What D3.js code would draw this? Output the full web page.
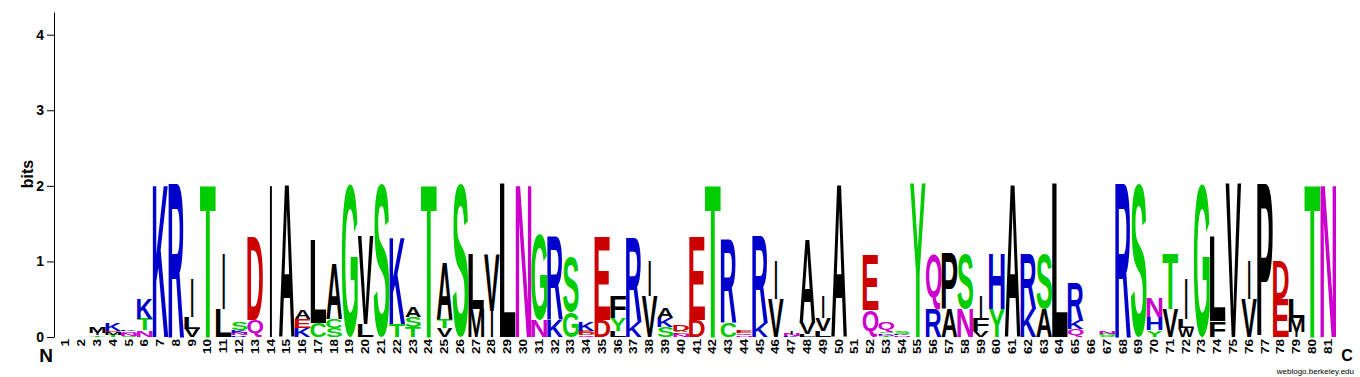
<html>
<script src="https://d3js.org/d3.v7.min.js"></script>
<style>
    body { margin: 0; background: #fff; }
    text { font-family: "Liberation Sans", Arial, Helvetica, sans-serif; }
</style>
<body>
<svg id="logo"></svg>
<script>
// sequence positions (x categories)
var positions = [1, 2, 3, 4, 5, 6, 7, 8, 9, 10, 11, 12, 13, 14, 15, 16, 17, 18, 19, 20,
    21, 22, 23, 24, 25, 26, 27, 28, 29, 30, 31, 32, 33, 34, 35, 36, 37, 38, 39, 40,
    41, 42, 43, 44, 45, 46, 47, 48, 49, 50, 51, 52, 53, 54, 55, 56, 57, 58, 59, 60,
    61, 62, 63, 64, 65, 66, 67, 68, 69, 70, 71, 72, 73, 74, 75, 76, 77, 78, 79, 80, 81];

// letters in each column, bottom to top
var columnLetters = ["", "", "TIM", "TMEK", "SNQK", "NTK", "K", "R", "VLI", "T",
    "LI", "RNKS", "QD", "I", "A", "KEA", "CL", "SCA", "G", "LV",
    "S", "TK", "TSA", "T", "VTA", "S", "ML", "IV", "L", "N",
    "NG", "KR", "GS", "QDEK", "DE", "LYF", "KR", "VI", "SKA", "NEAD",
    "DE", "T", "CR", "NQE", "KR", "VI", "KNI", "LVA", "LVI", "A",
    "", "QE", "TNKSQ", "NKS", "Y", "RQ", "AP", "NS", "VFI", "YH",
    "A", "KR", "AS", "L", "QKR", "", "SGN", "R", "S", "YHN",
    "VT", "WLI", "G", "FL", "V", "VI", "P", "ED", "IML", "T", "N"];

// bits for each letter, same order as columnLetters
var columnBits = [[], [], [0.02, 0.03, 0.09], [0.03, 0.03, 0.02, 0.10], [0.015, 0.04, 0.02, 0.02],
    [0.09, 0.15, 0.27], [2.03], [2.03], [0.11, 0.15, 0.51], [2.03],
    [0.37, 0.73], [0.02, 0.035, 0.03, 0.11], [0.22, 1.10], [2.03], [2.03],
    [0.12, 0.12, 0.11], [0.19, 1.10], [0.12, 0.12, 0.73], [2.03], [0.17, 1.17],
    [2.03], [0.17, 1.15], [0.13, 0.13, 0.13], [2.03], [0.12, 0.12, 0.76],
    [2.03], [0.37, 0.73], [0.35, 0.75], [2.03], [2.03],
    [0.22, 1.13], [0.22, 1.10], [0.33, 0.73], [0.02, 0.03, 0.03, 0.11], [0.22, 1.10],
    [0.08, 0.17, 0.29], [0.20, 1.12], [0.54, 0.46], [0.13, 0.12, 0.13], [0.04, 0.02, 0.02, 0.09],
    [0.22, 1.10], [2.03], [0.19, 1.10], [0.02, 0.03, 0.04], [0.18, 1.15],
    [0.50, 0.51], [0.015, 0.025, 0.025], [0.04, 0.15, 1.12], [0.08, 0.17, 0.29], [2.03],
    [], [0.36, 0.73], [0.015, 0.015, 0.02, 0.02, 0.12], [0.02, 0.02, 0.025], [2.03],
    [0.37, 0.73], [0.37, 0.73], [0.37, 0.73], [0.08, 0.17, 0.29], [0.37, 0.73],
    [2.03], [0.37, 0.73], [0.37, 0.73], [2.03], [0.10, 0.11, 0.51],
    [], [0.015, 0.03, 0.025], [2.03], [2.03], [0.09, 0.17, 0.26],
    [0.37, 0.73], [0.12, 0.12, 0.53], [2.03], [0.21, 1.12], [2.03],
    [0.50, 0.51], [2.03], [0.50, 0.51], [0.06, 0.19, 0.26], [2.03], [2.03]];

var yTicks = [0, 1, 2, 3, 4];

var letterColors = {
    G: "#00cc00", S: "#00cc00", T: "#00cc00", Y: "#00cc00", C: "#00cc00",
    N: "#cc00cc", Q: "#cc00cc",
    K: "#0000cc", R: "#0000cc", H: "#0000cc",
    D: "#cc0000", E: "#cc0000"
};

var width = 1360, height = 377;
var fontStack = "'Liberation Sans', Arial, Helvetica, sans-serif";

var svg = d3.select("#logo")
    .attr("width", width)
    .attr("height", height);

var x = d3.scaleBand()
    .domain(positions)
    .range([58, 1336])
    .paddingInner(0);

var y = d3.scaleLinear()
    .domain([0, 4.3])
    .range([337, 12]);

// measure the ink box of each glyph so letters can be stretched to fit
var ctx = document.createElement("canvas").getContext("2d");
ctx.font = "bold 100px " + fontStack;
var boxes = {};
function glyphBox(ch) {
    if (!boxes[ch]) {
        var m = ctx.measureText(ch);
        boxes[ch] = {
            l: m.actualBoundingBoxLeft, r: m.actualBoundingBoxRight,
            a: m.actualBoundingBoxAscent, d: m.actualBoundingBoxDescent
        };
    }
    return boxes[ch];
}

// flatten stacks
var letters = [];
positions.forEach(function (p, i) {
    var base = 0;
    columnLetters[i].split("").forEach(function (ch, j) {
        var b = columnBits[i][j];
        letters.push({ pos: p, ch: ch, y0: base, y1: base + b });
        base += b;
    });
});

svg.append("g")
    .selectAll("text")
    .data(letters)
    .enter()
    .append("text")
    .attr("font-size", 100)
    .attr("font-weight", "bold")
    .attr("fill", function (d) { return letterColors[d.ch] || "#000000"; })
    .attr("transform", function (d) {
        var g = glyphBox(d.ch);
        var w = x.bandwidth(), left = x(d.pos);
        // I stays a thin stroke, like weblogo draws it
        if (d.ch == "I") {
            w = x.bandwidth() * 0.14;
            left = x(d.pos) + (x.bandwidth() - w) / 2;
        }
        var sx = w / (g.l + g.r);
        var sy = (y(d.y0) - y(d.y1)) / (g.a + g.d);
        return "translate(" + left + "," + y(d.y0) + ") scale(" + sx + "," + sy + ") translate(" + g.l + "," + (-g.d) + ")";
    })
    .text(function (d) { return d.ch; });

// y axis
var yAxis = svg.append("g")
    .attr("transform", "translate(54,0)")
    .call(d3.axisLeft(y).tickValues(yTicks).tickSize(7).tickSizeOuter(0).tickFormat(d3.format("d")));
yAxis.selectAll("text")
    .attr("font-size", 14)
    .attr("font-weight", "bold")
    .attr("font-family", fontStack)
    .attr("fill", "#000");
yAxis.selectAll("line, path").attr("stroke", "#000");

svg.append("text")
    .attr("transform", "translate(33,174) rotate(-90)")
    .attr("text-anchor", "middle")
    .attr("font-size", 16)
    .attr("font-weight", "bold")
    .text("bits");

// position numbers
svg.append("g")
    .selectAll("text")
    .data(positions)
    .enter()
    .append("text")
    .attr("transform", function (d) { return "translate(" + (x(d) + x.bandwidth() / 2) + ",339) rotate(-90) scale(1.35,1)"; })
    .attr("text-anchor", "end")
    .attr("dy", "0.35em")
    .attr("font-size", 10)
    .attr("font-weight", "bold")
    .text(function (d) { return d; });

svg.append("text")
    .attr("x", 46).attr("y", 362)
    .attr("text-anchor", "middle")
    .attr("font-size", 19)
    .attr("font-weight", "bold")
    .text("N");

svg.append("text")
    .attr("x", 1347).attr("y", 361)
    .attr("text-anchor", "middle")
    .attr("font-size", 16)
    .attr("font-weight", "bold")
    .text("C");

svg.append("text")
    .attr("x", 1354).attr("y", 374)
    .attr("text-anchor", "end")
    .attr("font-size", 8)
    .text("weblogo.berkeley.edu");
</script>
</body>
</html>
